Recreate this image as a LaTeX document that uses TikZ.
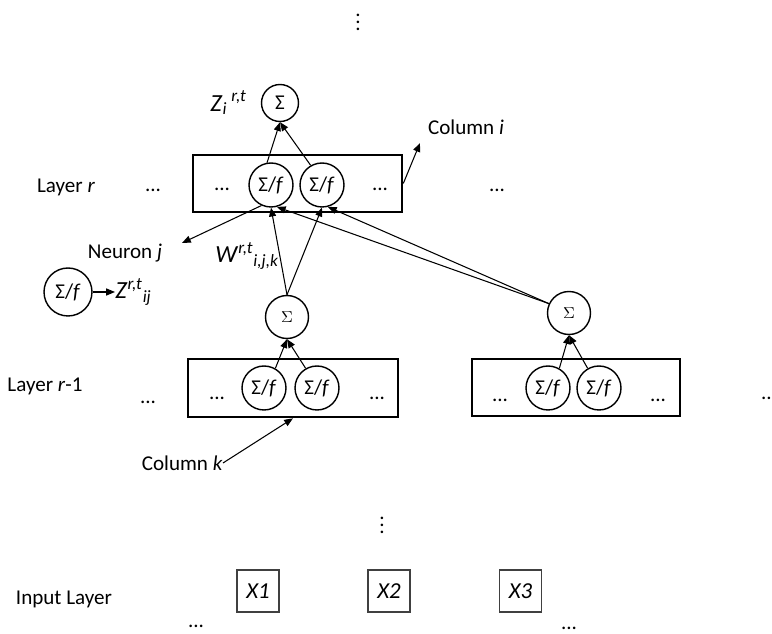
\documentclass[tikz,border=0pt]{standalone}
\usepackage{amsmath}
\usepackage{fontspec}
\setmainfont{Carlito}
\usetikzlibrary{arrows.meta}

\newcommand{\sumf}{Σ/\textit{f}}

\begin{document}
\begin{tikzpicture}[x=0.02cm, y=-0.02cm, font=\fontsize{12}{14}\selectfont,
	neuron/.style={draw, circle, line width=0.8pt, inner sep=0pt, minimum size=0.88cm},
	summer/.style={draw, circle, line width=0.8pt, inner sep=0pt, minimum size=0.86cm},
	layerbox/.style={draw, line width=1.5pt, minimum width=4.18cm, minimum height=1.14cm},
	inbox/.style={draw=black!75, line width=0.8pt, minimum size=0.84cm, font=\fontsize{13}{15}\selectfont\itshape},
	weight/.style={font=\fontsize{14}{16}\selectfont},
	link/.style={line width=0.6pt, -{Triangle[length=5pt,width=4pt]}}]
			\useasboundingbox (0,0) rectangle (772,634);
			\clip (0,0) rectangle (772,634);
			% layer r
			\node[layerbox] (boxR) at (297.5,183.5) {};
			\node[neuron] (nR1) at (271,185) {\sumf};
			\node[neuron] (nR2) at (322,185) {\sumf};
			\node[summer, minimum size=0.74cm] (sTop) at (280,103) {Σ};
			% layer r-1
			\node[layerbox, minimum width=4.2cm, minimum height=1.16cm] (boxL) at (293,388) {};
			\node[layerbox, minimum width=4.16cm] (boxRR) at (576,387.5) {};
			\node[neuron] (nL1) at (264,388) {\sumf};
			\node[neuron] (nL2) at (317,388) {\sumf};
			\node[neuron] (nRR1) at (548,388) {\sumf};
			\node[neuron] (nRR2) at (599,388) {\sumf};
			\node[summer] (sL) at (287,317) {\small$\Sigma$};
			\node[summer] (sRR) at (569,313) {\small$\Sigma$};
			% single neuron
			\node[neuron, minimum size=0.96cm] (nS) at (68,292) {\sumf};
			% input layer
			\foreach \n/\x in {1/258, 2/389, 3/520.5}
			\node[inbox] (X\n) at (\x,591) {X\n};
			% labels
			\node (layR) at (66,187) {Layer \textit{r}};
			\node (layL) at (45,386) {Layer \textit{r}-1};
			\node (layIn) at (64,599) {Input Layer};
			\node (neuJ) at (125,253) {Neuron \textit{j}};
			\node (colI) at (466,127) {Column \textit{i}};
			\node[anchor=east, inner sep=0pt] (colK) at (223,463) {Column \textit{k}};
			\node[weight, anchor=west, inner sep=0pt] (wLab) at (215,256) {\textit{W}\textsuperscript{\textit{r,t}}\textsubscript{\textit{i,j,k}}};
			\node[weight, anchor=west, inner sep=0pt] (zij) at (115,292) {\textit{Z}\textsuperscript{\textit{r,t}}\textsubscript{\textit{ij}}};
			\node[weight, anchor=east, inner sep=0pt] (zi) at (247,103) {\textit{Z}\rlap{\textsubscript{\textit{i}}}\textsuperscript{\hspace{5pt}\textit{r,t}}};
			% dots
			\node (vtop) at (358,17) {$\vdots$};
			\node (vmid) at (382,520) {$\vdots$};
			\foreach \x/\y in {153/190, 222/189, 380/189, 497/190, 148/402, 217/398, 377/398, 500/400, 658/400, 769/398, 196/626, 569/628}
			\node (dots\x) at (\x,\y) {...};
			% connectors
			\coordinate (ptJ) at (182,243);
			\coordinate (ptI) at (420,143);
			\draw[link] (nR1.100) -- (sTop.south);
			\draw[link] (nR2.120) -- (sTop.south);
			\draw[link] (nR1.-115) -- (ptJ);
			\draw[link] (sL.north) -- (nR1.south);
			\draw[link] (sL.north) -- (nR2.south);
			\draw[link] (sRR.155) -- (nR1.-75);
			\draw[link] (sRR.155) -- (nR2.-75);
			\draw[link] (nL1.60) -- (sL.south);
			\draw[link] (nL2.120) -- (sL.south);
			\draw[link] (nRR1.60) -- (sRR.south);
			\draw[link] (nRR2.120) -- (sRR.south);
			\draw[link] (boxR.east) -- (ptI);
			\draw[link] (colK.east) -- (boxL.south);
			\draw[link] (nS.east) -- (zij.west);
		\end{tikzpicture}
\end{document}
